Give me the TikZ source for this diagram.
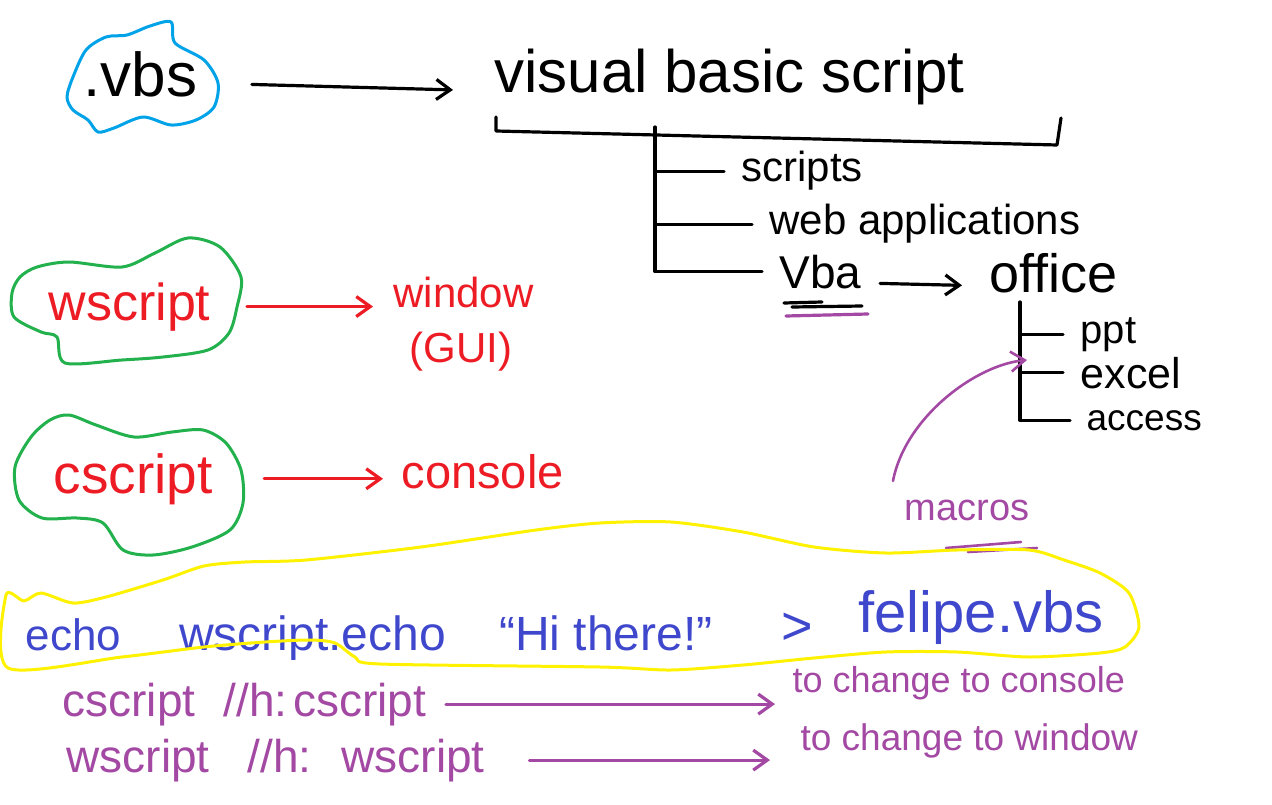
\documentclass[tikz,border=0pt]{standalone}
\usepackage{fontspec}
\setmainfont{Liberation Sans}
\usetikzlibrary{arrows.meta,positioning}
\definecolor{penblue}{RGB}{63,72,204}
\definecolor{pencyan}{RGB}{0,162,232}
\definecolor{penred}{RGB}{237,28,36}
\definecolor{pengreen}{RGB}{34,177,76}
\definecolor{penpurple}{RGB}{163,73,164}
\definecolor{penyellow}{RGB}{255,242,0}
\newcommand{\pensize}[1]{\fontsize{#1}{#1}\selectfont}

\begin{document}
\begin{tikzpicture}[x=1pt,y=-1pt,line width=3.2pt,line cap=round,line join=round,
  >={Straight Barb[length=14pt,width=20pt]},
  txt/.style={inner sep=0pt,anchor=base west},
  blob/.style={line width=3pt},
  branch/.style={shorten >=16pt}]
  \useasboundingbox[fill=white] (0,0) rectangle (1272,805);

  % .vbs and the tree
  \node[txt] (vbs) at (82,97) {\pensize{62}.vbs};
  \node[txt] (vbscript) at (493,93) {\pensize{60}visual basic script};
  \node[txt] (scripts) at (740,182) {\pensize{42}scripts};
  \node[txt] (webapp) at (768,235) {\pensize{42}web applications};
  \node[txt] (vba) at (778,288) {\pensize{46}Vba};
  \node[txt] (office) at (988,292) {\pensize{54}office};
  \node[txt] (ppt) at (1079,343) {\pensize{40}ppt};
  \node[txt] (excel) at (1079,388) {\pensize{43}excel};
  \node[txt] (access) at (1085,430) {\pensize{37}access};
  \coordinate (stem) at (655,127);
  \coordinate (offstem) at (1020,302);

  \draw[pencyan,blob] plot[smooth cycle] coordinates {(106,37) (127,35) (150,26) (171,22)
    (175,43) (204,60) (218,83) (214,107) (196,120) (171,125) (143,117) (114,128)
    (98,132) (88,120) (73,110) (67,97) (73,77) (86,50)};
  \draw[->,shorten <=53pt,shorten >=40pt] ([yshift=14pt]vbs.base east) -- ([yshift=2pt]vbscript.base west);

  \draw (496,117) -- (496,131) -- (1057,145) -- (1061,118);
  \draw[branch] (stem) |- (vba.west);
  \draw[branch] (stem |- scripts.west) -- (scripts.west);
  \draw[branch] (stem |- webapp.west) -- (webapp.west);
  \draw (784,303) -- (822,302);
  \draw (792,307) -- (862,306);
  \draw[penpurple] (786,316) -- (868,314);
  \draw[->,shorten <=17pt,shorten >=26pt] ([yshift=5pt]vba.base east) -- ([yshift=6pt]office.base west);
  \draw[shorten >=15pt] (offstem) |- (access.west);
  \draw[branch] (offstem |- ppt.west) -- (ppt.west);
  \draw[branch] (offstem |- excel.west) -- (excel.west);

  % macros
  \node[txt,penpurple] (macros) at (903,520) {\pensize{38}macros};
  \coordinate (macroend) at (1027,360);
  \draw[penpurple,->,line width=2.6pt] (macros.north west) ++(-10,-17)
    .. controls +(12,-63) and +(-52,5) .. (macroend);
  \draw[penpurple,line width=2.6pt] (946,548) -- (1021,542);
  \draw[penpurple,line width=2.6pt] (968,552) -- (1037,548);

  % wscript / cscript
  \node[txt,penred] (wscript) at (47,320) {\pensize{52}wscript};
  \node[txt,penred] (window) at (392,307) {\pensize{42}window};
  \node[txt,penred] (gui) at (408,362) {\pensize{42}(GUI)};
  \node[txt,penred] (cscript) at (52,493) {\pensize{55}cscript};
  \node[txt,penred] (console) at (400,488) {\pensize{47}console};
  \draw[pengreen,blob] plot[smooth cycle] coordinates {(37,267) (69,262) (122,267) (155,253)
    (188,238) (220,247) (241,277) (237,307) (229,333) (208,350) (163,357) (122,360)
    (65,363) (57,337) (41,332) (14,317) (12,293) (20,277)};
  \draw[pengreen,blob] plot[smooth cycle] coordinates {(69,415) (96,425) (134,437) (172,432)
    (203,430) (226,443) (241,470) (243,503) (230,530) (192,547) (153,555) (123,550)
    (103,523) (77,518) (42,518) (19,500) (15,467) (31,437) (50,420)};
  \draw[penred,->,shorten <=35pt,shorten >=19pt] (wscript.east) -- (wscript.east -| window.west);
  \draw[penred,->,shorten <=50pt,shorten >=17pt] (cscript.east) -- (cscript.east -| console.west);

  % echo line
  \node[txt,penblue] (echo) at (24,650) {\pensize{44}echo};
  \node[txt,penblue] (wecho) [base right=55pt of echo] {\pensize{48}wscript.echo};
  \node[txt,penblue] (hithere) [base right=50pt of wecho] {\pensize{48}“Hi there!”};
  \node[txt,penblue] (gt) [base right=66pt of hithere,yshift=6pt] {\pensize{54}>};
  \node[txt,penblue] (felipe) [base right=42pt of gt,yshift=12pt] {\pensize{58}felipe.vbs};
  \draw[penyellow,blob] plot[smooth cycle,tension=0.45] coordinates {(6,595) (24,601) (41,593)
    (73,603) (106,597) (163,580) (204,566) (245,562) (306,560) (421,547) (536,530)
    (600,523) (671,522) (743,532) (814,547) (886,553) (957,550) (1029,550) (1064,560)
    (1100,573) (1129,593) (1139,627) (1125,647) (1100,653) (1029,657) (957,652)
    (886,652) (814,658) (743,665) (671,670) (600,667) (380,664) (355,657) (335,643)
    (310,640) (265,642) (204,647) (122,657) (8,668)};

  % host switches
  \node[txt,penpurple] (hostc) at (61,716) {\pensize{46}cscript\hspace{28pt}//h:\hspace{6pt}cscript};
  \node[txt,penpurple] (hostw) at (65,772) {\pensize{46}wscript\hspace{38pt}//h:\hspace{30pt}wscript};
  \node[txt,penpurple] (toconsole) at (791,692) {\pensize{36}to change to console};
  \node[txt,penpurple] (towindow) at (799,750) {\pensize{37}to change to window};
  \draw[penpurple,->,shorten <=18pt,shorten >=16pt] (hostc.east) -- (hostc.east -| toconsole.west);
  \draw[penpurple,->,shorten <=43pt,shorten >=29pt] (hostw.east) -- (hostw.east -| towindow.west);
\end{tikzpicture}
\end{document}
